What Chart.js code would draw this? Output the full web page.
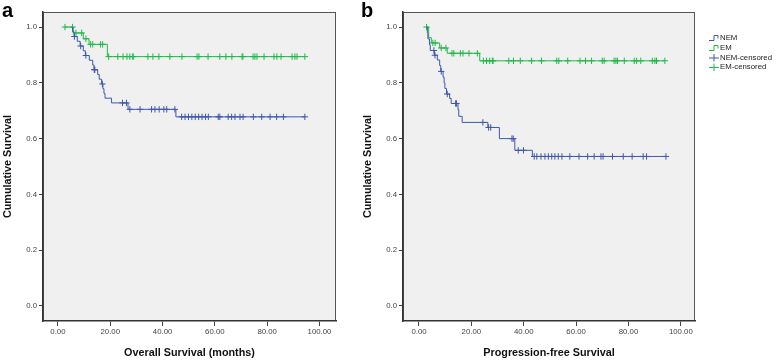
<!DOCTYPE html>
<html><head><meta charset="utf-8">
<script src="https://cdn.jsdelivr.net/npm/chart.js@4/dist/chart.umd.min.js"></script>
<style>
html,body{margin:0;padding:0;background:#fff;width:778px;height:361px;overflow:hidden;font-family:"Liberation Sans",Arial,sans-serif}
#c1{position:absolute;left:0;top:0}
#c2{position:absolute;left:360px;top:0}
.lbl{position:absolute;font-weight:bold;font-size:20px;line-height:20px;color:#000}
</style></head><body>
<canvas id="c1" width="360" height="361"></canvas>
<canvas id="c2" width="418" height="361"></canvas>
<div class="lbl" style="left:2px;top:0px">a</div>
<div class="lbl" style="left:361px;top:0px">b</div>
<script>
// ---- tick labels ----
const xTicks = [0, 20, 40, 60, 80, 100];
const yTicks = [0, 0.2, 0.4, 0.6, 0.8, 1.0];
const seriesNames = ['NEM', 'EM', 'NEM-censored', 'EM-censored'];

// ---- Panel a: Overall Survival (months) ----
const osNemTime = [5.2, 5.6, 6.2, 7.4, 8.5, 9.7, 10.5, 12.0, 13.3, 13.8, 15.2, 15.8, 16.7, 17.2, 17.6, 18.0, 20.5, 26.8, 45.1, 94.4];
const osNemSurv = [1.0, 0.983, 0.966, 0.949, 0.932, 0.915, 0.898, 0.881, 0.864, 0.847, 0.830, 0.813, 0.796, 0.779, 0.762, 0.745, 0.728, 0.705, 0.678, 0.678];
const osNemCens = [6.3, 8.7, 10.7, 13.9, 14.1, 17.0, 24.7, 26.2, 27.5, 31.4, 35.8, 37.1, 38.7, 40.5, 41.6, 44.7,
  47.3, 48.6, 49.9, 51.2, 52.5, 53.8, 55.1, 56.4, 57.5, 61.3, 61.9, 65.1, 66.4, 67.7, 69.6, 70.8, 74.7, 77.9, 81.1, 83.6, 86.2, 94.4];
const osEmTime = [2.7, 5.9, 9.7, 11.9, 18.9, 94.4];
const osEmSurv = [1.0, 0.979, 0.958, 0.938, 0.894, 0.894];
const osEmCens = [2.7, 5.6, 6.9, 9.1, 10.7, 12.5, 13.3, 16.3, 17.1,
  19.4, 22.9, 24.9, 26.4, 27.5, 28.6, 28.8, 34.4, 36.3, 38.6, 42.8, 47.4, 53.2, 53.9, 57.4, 61.9, 64.2, 66.5, 70.4, 70.7,
  74.6, 75.3, 76.1, 78.8, 82.6, 83.7, 85.3, 89.5, 90.6, 91.4, 94.4];

// ---- Panel b: Progression-free Survival ----
const pfsNemTime = [2.8, 3.2, 3.4, 4.0, 4.3, 5.9, 7.0, 7.9, 8.3, 9.2, 9.6, 9.9, 10.5, 11.7, 12.3, 14.9, 15.2, 16.5, 26.3, 30.7, 36.6, 43.3, 94.3];
const pfsNemSurv = [1.0, 0.979, 0.958, 0.937, 0.916, 0.899, 0.882, 0.862, 0.841, 0.820, 0.800, 0.780, 0.760, 0.744, 0.726, 0.704, 0.680, 0.658, 0.640, 0.600, 0.558, 0.536, 0.536];
const pfsNemCens = [5.7, 6.1, 8.5, 10.8, 14.0, 14.3, 24.4, 26.6, 27.4, 35.5, 36.0, 37.9, 39.9,
  44.0, 45.0, 46.6, 48.1, 49.4, 50.7, 51.9, 53.2, 54.6, 57.6, 61.1, 64.4, 66.9, 69.5, 70.3, 73.9, 78.0, 81.4, 85.6, 86.9, 94.3];
const pfsEmTime = [2.9, 3.7, 4.7, 7.9, 10.8, 23.2, 93.9];
const pfsEmSurv = [1.0, 0.962, 0.943, 0.925, 0.906, 0.879, 0.879];
const pfsEmCens = [2.9, 5.3, 6.2, 8.5, 10.3, 12.6, 13.3, 15.8, 16.8, 19.1, 22.3,
  24.6, 25.8, 27.0, 28.0, 28.3, 34.3, 36.1, 38.7, 43.0, 46.8, 52.6, 53.4, 56.8, 61.5, 63.6, 65.9, 70.0, 70.7,
  74.5, 75.2, 75.8, 78.4, 82.2, 83.1, 84.7, 89.1, 90.1, 90.7, 93.9];

const BLUE = '#3e58ac', GREEN = '#22b84a';
Chart.defaults.font.family = "'Liberation Sans', Arial, sans-serif";
Chart.defaults.animation = false;

function curve(t, s) { return t.map((v, i) => ({x: v, y: s[i]})); }
function survAt(t, s, c) { let v = s[0]; for (let i = 0; i < t.length; i++) if (t[i] <= c) v = s[i]; return v; }
function marks(t, s, cens) { return cens.map(c => ({x: c, y: survAt(t, s, c)})); }

const boxPlugin = {
  id: 'box',
  beforeDraw(chart) {
    const {ctx, chartArea: a} = chart;
    ctx.save();
    ctx.fillStyle = '#f0f0f0';
    ctx.fillRect(a.left, a.top, a.right - a.left, a.bottom - a.top);
    ctx.strokeStyle = '#555';
    ctx.lineWidth = 1;
    ctx.strokeRect(a.left + 0.5, a.top + 0.5, a.right - a.left - 1, a.bottom - a.top - 1);
    ctx.restore();
  }
};

const legendPlugin = {
  id: 'kmLegend',
  afterDraw(chart) {
    const ctx = chart.ctx;
    const x0 = 349, ys = [38, 48, 57.5, 67], cols = [BLUE, GREEN, BLUE, GREEN];
    ctx.save();
    ctx.font = "7.8px 'Liberation Sans', Arial, sans-serif";
    ctx.textBaseline = 'middle';
    ctx.textAlign = 'left';
    seriesNames.forEach((name, i) => {
      const y = ys[i];
      ctx.strokeStyle = cols[i];
      ctx.lineWidth = 1;
      ctx.beginPath();
      if (i < 2) {
        ctx.moveTo(x0, y + 2.5); ctx.lineTo(x0 + 5, y + 2.5); ctx.lineTo(x0 + 5, y - 2.5);
        ctx.lineTo(x0 + 9, y - 2.5); ctx.lineTo(x0 + 9, y + 0.5);
      } else {
        ctx.moveTo(x0, y + 0.5); ctx.lineTo(x0 + 10, y + 0.5);
        ctx.moveTo(x0 + 5, y - 3.5); ctx.lineTo(x0 + 5, y + 4);
      }
      ctx.stroke();
      ctx.fillStyle = '#222';
      ctx.fillText(name, x0 + 11, y);
    });
    ctx.restore();
  }
};

function makeChart(id, nemT, nemS, nemC, emT, emS, emC, xmin, xmax, xTitle, rightPad, withLegend) {
  const lineDs = (t, s, col, lbl) => ({label: lbl, data: curve(t, s), showLine: true, stepped: 'before',
    borderColor: col, borderWidth: 1, pointRadius: 0, fill: false});
  const censDs = (t, s, c, col, lbl) => ({label: lbl, data: marks(t, s, c), showLine: false,
    pointStyle: 'cross', pointRadius: 3.2, borderColor: col, backgroundColor: col, pointBorderWidth: 1});
  return new Chart(document.getElementById(id), {
    type: 'scatter',
    data: {datasets: [
      lineDs(nemT, nemS, BLUE, seriesNames[0]),
      lineDs(emT, emS, GREEN, seriesNames[1]),
      censDs(nemT, nemS, nemC, BLUE, seriesNames[2]),
      censDs(emT, emS, emC, GREEN, seriesNames[3])
    ]},
    options: {
      responsive: false,
      animation: false,
      layout: {padding: {top: 12, right: rightPad, left: 0, bottom: 0}},
      plugins: {legend: {display: false}, tooltip: {enabled: false}},
      scales: {
        x: {
          type: 'linear', min: xmin, max: xmax,
          afterBuildTicks: s => { s.ticks = xTicks.map(v => ({value: v})); },
          afterFit: s => { s.height = 40; },
          ticks: {callback: v => Number(v).toFixed(2), font: {size: 7.8}, color: '#444', padding: 1, maxRotation: 0, autoSkip: false},
          grid: {display: true, drawOnChartArea: false, drawTicks: true, tickLength: 5, color: '#444'},
          border: {display: true, color: '#333', width: 1.5},
          title: {display: true, text: xTitle, font: {size: 10.8, weight: 'bold'}, color: '#111', padding: {top: 0, bottom: 1}}
        },
        y: {
          type: 'linear', min: -0.054, max: 1.054,
          afterBuildTicks: s => { s.ticks = yTicks.map(v => ({value: v})); },
          afterFit: s => { s.width = 43; },
          ticks: {callback: v => Number(v).toFixed(1), font: {size: 7.8}, color: '#444', padding: 2, autoSkip: false},
          grid: {display: true, drawOnChartArea: false, drawTicks: true, tickLength: 4, color: '#444'},
          border: {display: true, color: '#333', width: 1.5},
          title: {display: true, text: 'Cumulative Survival', font: {size: 10.8, weight: 'bold'}, color: '#111', padding: {top: 1.5, bottom: 0}}
        }
      }
    },
    plugins: withLegend ? [boxPlugin, legendPlugin] : [boxPlugin]
  });
}

makeChart('c1', osNemTime, osNemSurv, osNemCens, osEmTime, osEmSurv, osEmCens, -5.7, 106.3, 'Overall Survival (months)', 24, false);
makeChart('c2', pfsNemTime, pfsNemSurv, pfsNemCens, pfsEmTime, pfsEmSurv, pfsEmCens, -6.1, 105.4, 'Progression-free Survival', 83, true);
</script>
</body></html>
